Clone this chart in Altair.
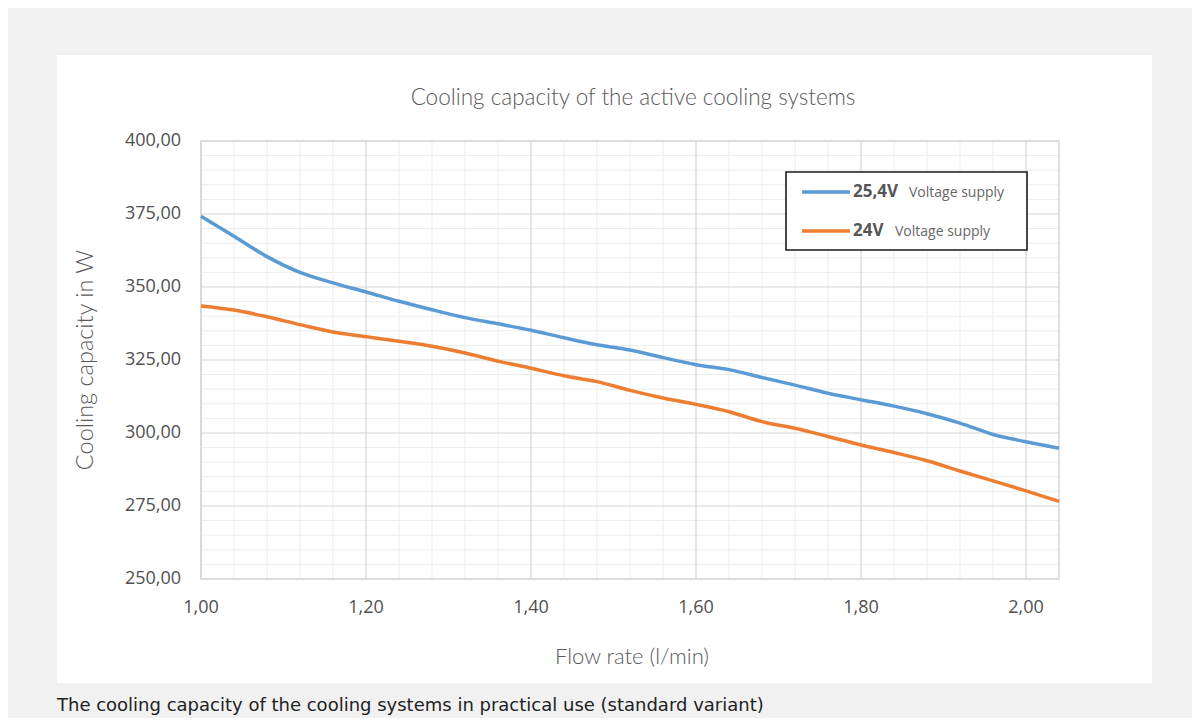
import altair as alt
import pandas as pd

# ---------------- data ----------------
flow = [1.00, 1.04, 1.08, 1.12, 1.16, 1.20, 1.24, 1.28, 1.32, 1.36, 1.40,
        1.44, 1.48, 1.52, 1.56, 1.60, 1.64, 1.68, 1.72, 1.76, 1.80, 1.84,
        1.88, 1.92, 1.96, 2.00, 2.04]
cap_254v = [374.2, 367.4, 360.4, 355.0, 351.4, 348.3, 345.1, 342.2, 339.5,
            337.4, 335.2, 332.6, 330.2, 328.4, 325.8, 323.4, 321.7, 319.0,
            316.4, 313.6, 311.4, 309.2, 306.6, 303.4, 299.5, 297.0, 294.8]
cap_24v = [343.5, 342.1, 339.8, 337.1, 334.6, 333.0, 331.4, 329.7, 327.4,
           324.6, 322.2, 319.6, 317.6, 314.6, 312.0, 309.8, 307.3, 303.9,
           301.6, 298.8, 295.9, 293.3, 290.5, 287.0, 283.6, 280.2, 276.6]
series = ["25,4V", "24V"]
series_colors = ["#5b9bd5", "#ed7d31"]
legend_suffix = "Voltage supply"

x_major = [1.00, 1.20, 1.40, 1.60, 1.80, 2.00]
x_tick_labels = ["1,00", "1,20", "1,40", "1,60", "1,80", "2,00"]
x_minor = [1.04, 1.08, 1.12, 1.16, 1.24, 1.28, 1.32, 1.36, 1.44, 1.48, 1.52,
           1.56, 1.64, 1.68, 1.72, 1.76, 1.84, 1.88, 1.92, 1.96, 2.04]
y_major = [250, 275, 300, 325, 350, 375, 400]
y_tick_labels = ["250,00", "275,00", "300,00", "325,00", "350,00", "375,00", "400,00"]
y_minor = [255, 260, 265, 270, 280, 285, 290, 295, 305, 310, 315, 320, 330,
           335, 340, 345, 355, 360, 365, 370, 380, 385, 390, 395]

title_text = "Cooling capacity of the active cooling systems"
x_title = "Flow rate (l/min)"
y_title = "Cooling capacity in W"
caption = "The cooling capacity of the cooling systems in practical use (standard variant)"

# ---------------- tables ----------------
df = pd.DataFrame({
    "flow": flow * 2,
    "cap": cap_254v + cap_24v,
    "series": [series[0]] * len(flow) + [series[1]] * len(flow),
})
one = pd.DataFrame({"k": [0]})
xt = pd.DataFrame({"v": x_major, "lab": x_tick_labels})
yt = pd.DataFrame({"v": y_major, "lab": y_tick_labels})

W, H = 858, 438
X_DOMAIN = [1.0, 2.04]
Y_DOMAIN = [250, 400]

xs = alt.Scale(domain=X_DOMAIN, nice=False, zero=False)
ys = alt.Scale(domain=Y_DOMAIN, nice=False, zero=False)

LABEL_FONT = "Open Sans"
LIGHT_FONT = "Lato"
GREY_TXT = "#595959"
PAGE_GREY = "#f1f1f1"

# grey page frame around the white card (strips: left, top, right, bottom)
strips = []
for x0, x1, y0, y1 in [(-193, -144, -133, 577), (-193, 991, -133, -86),
                       (951, 991, -133, 577), (-193, 991, 542, 577)]:
    strips.append(alt.Chart(one).mark_rect(fill=PAGE_GREY).encode(
        x=alt.value(x0), x2=alt.value(x1), y=alt.value(y0), y2=alt.value(y1)))

minor_x = alt.Chart(pd.DataFrame({"v": x_minor})).mark_rule(
    color="#ececec", strokeWidth=1).encode(x=alt.X("v:Q", scale=xs, axis=None))
minor_y = alt.Chart(pd.DataFrame({"v": y_minor})).mark_rule(
    color="#ececec", strokeWidth=1).encode(y=alt.Y("v:Q", scale=ys, axis=None))
major_x = alt.Chart(xt).mark_rule(
    color="#d6d6d6", strokeWidth=1.2).encode(x=alt.X("v:Q", scale=xs, axis=None))
major_y = alt.Chart(yt).mark_rule(
    color="#d6d6d6", strokeWidth=1.2).encode(y=alt.Y("v:Q", scale=ys, axis=None))

frame = alt.Chart(one).mark_rect(fillOpacity=0, stroke="#d0d0d0", strokeWidth=1.2).encode(
    x=alt.value(0), x2=alt.value(W), y=alt.value(0), y2=alt.value(H)
)

# tick labels drawn through the same scales
x_labels = alt.Chart(xt).mark_text(align="center", baseline="middle", fontSize=18,
                                   font=LABEL_FONT, color="#505050").encode(
    x=alt.X("v:Q", scale=xs, axis=None), y=alt.value(H + 29), text="lab:N")
y_labels = alt.Chart(yt).mark_text(align="right", baseline="middle", fontSize=18,
                                   font=LABEL_FONT, color="#505050").encode(
    y=alt.Y("v:Q", scale=ys, axis=None), x=alt.value(-20), text="lab:N")

x_title_mark = alt.Chart(one).mark_text(align="center", baseline="middle", fontSize=22,
                                        font=LIGHT_FONT, fontWeight=300, color=GREY_TXT).encode(
    x=alt.value(W / 2 + 2), y=alt.value(516), text=alt.value(x_title))
y_title_mark = alt.Chart(one).mark_text(align="center", baseline="middle", fontSize=23.5,
                                        angle=270, font=LIGHT_FONT, fontWeight=300,
                                        color=GREY_TXT).encode(
    x=alt.value(-115), y=alt.value(H / 2), text=alt.value(y_title))

lines = alt.Chart(df).mark_line(strokeWidth=3.5, interpolate="monotone").encode(
    x=alt.X("flow:Q", scale=xs, axis=None),
    y=alt.Y("cap:Q", scale=ys, axis=None),
    color=alt.Color("series:N", scale=alt.Scale(domain=series, range=series_colors),
                    legend=None),
    detail="series:N",
)

# custom legend box
legend_layers = [
    alt.Chart(one).mark_rect(fill="white", stroke="#1a1a1a", strokeWidth=1.6).encode(
        x=alt.value(585), x2=alt.value(826), y=alt.value(31), y2=alt.value(109)
    )
]
legend_rows = [(51, 708), (90, 694)]
for i, name in enumerate(series):
    ly, sx = legend_rows[i]
    src = pd.DataFrame({"series": [name], "suffix": [legend_suffix]})
    legend_layers.append(
        alt.Chart(src).mark_rule(strokeWidth=3.5, color=series_colors[i]).encode(
            x=alt.value(601), x2=alt.value(649), y=alt.value(ly))
    )
    legend_layers.append(
        alt.Chart(src).mark_text(align="left", baseline="middle", fontSize=17,
                                 fontWeight="bold", font=LABEL_FONT, color="#555555").encode(
            x=alt.value(652), y=alt.value(ly), text="series:N")
    )
    legend_layers.append(
        alt.Chart(src).mark_text(align="left", baseline="middle", fontSize=14,
                                 font=LABEL_FONT, color="#666666").encode(
            x=alt.value(sx), y=alt.value(ly + 1), text="suffix:N")
    )

title_mark = alt.Chart(one).mark_text(align="center", baseline="middle", fontSize=22.5,
                                      font=LIGHT_FONT, fontWeight=300, color=GREY_TXT).encode(
    x=alt.value(W / 2 + 3), y=alt.value(-43), text=alt.value(title_text)
)

cap_text = alt.Chart(one).mark_text(align="left", baseline="middle", fontSize=18,
                                    font="DejaVu Sans", color="#222222").encode(
    x=alt.value(-144), y=alt.value(565), text=alt.value(caption)
)

chart = alt.layer(
    *strips, minor_x, minor_y, major_x, major_y, frame, lines, *legend_layers,
    x_labels, y_labels, x_title_mark, y_title_mark, title_mark, cap_text
).properties(
    width=W, height=H,
    autosize=alt.AutoSizeParams(type="none"),
    padding={"left": 193, "top": 133, "right": 133, "bottom": 139},
    background="white",
).configure_view(stroke=None)

chart.save("out.html", embed_options={"renderer": "svg", "actions": False})
